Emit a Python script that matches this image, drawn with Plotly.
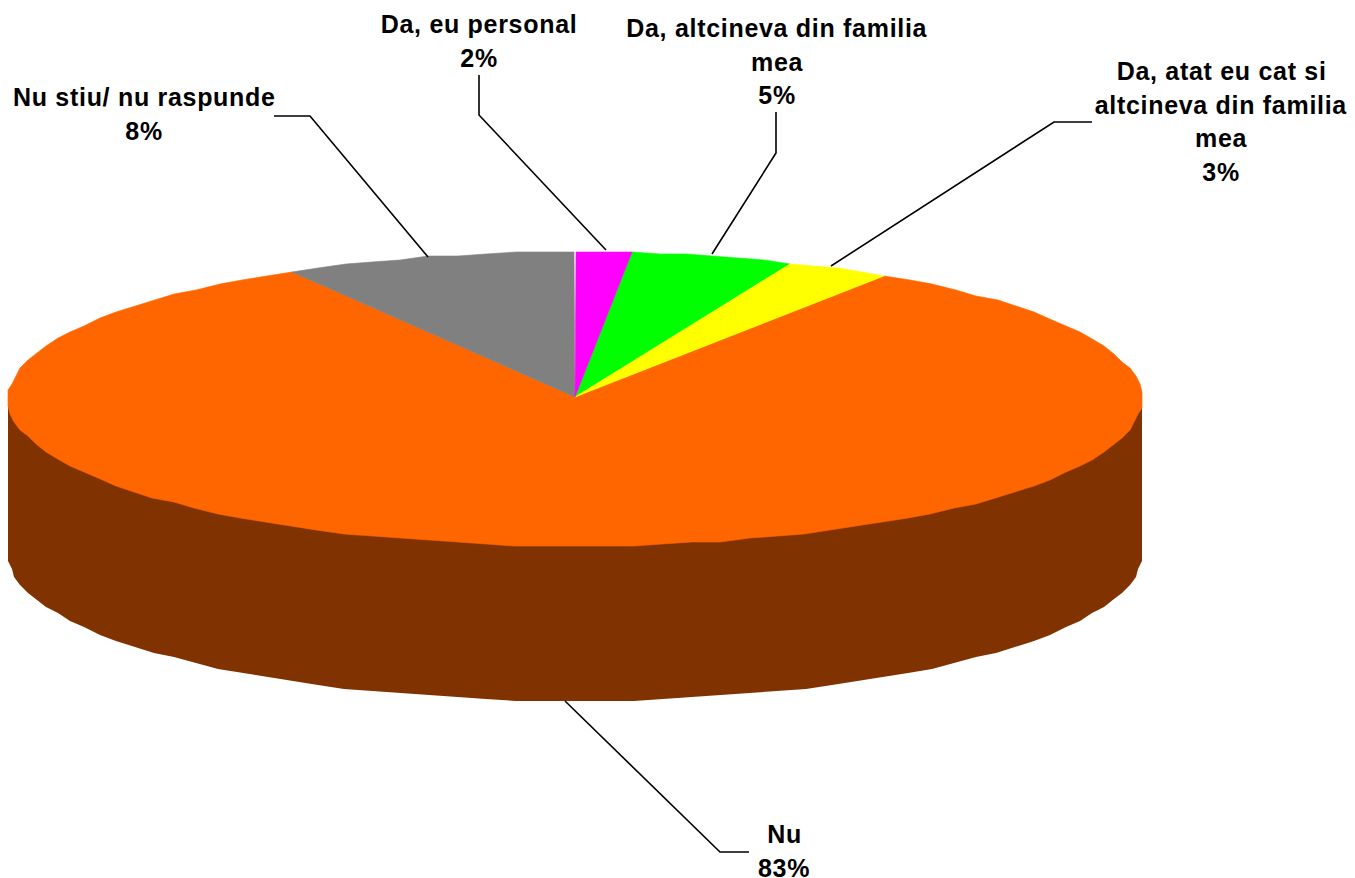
import numpy as np
import plotly.graph_objects as go

categories = ["Da, eu personal", "Da, altcineva din familia<br>mea",
              "Da, atat eu cat si<br>altcineva din familia<br>mea", "Nu", "Nu stiu/ nu raspunde"]
values = [1.6, 4.6, 3.0, 82.5, 8.3]
shown = ["2%", "5%", "3%", "83%", "8%"]
colors = ["#FF00FF", "#00FF00", "#FFFF00", "#FF6600", "#808080"]
wall_color = "#803300"

CX, CY, RX, RY, DEPTH = 575, 399, 567, 147, 155
W, H = 1355, 878
STEP = 3.0
GRID = 2.0
FONT = dict(family="Liberation Sans", size=25, color="black")


def rim(deg):
    t = np.radians(deg)
    x = CX + RX * np.sin(t)
    y = CY - RY * np.cos(t)
    return np.round(x / GRID) * GRID, np.round(y / GRID) * GRID


def arc_angles(a, b):
    n = max(2, int(np.ceil((b - a) / STEP)) + 1)
    return np.linspace(a, b, n)


fig = go.Figure()

# side wall: front half of the disc pushed down by the depth; the top face covers its upper edge
th = arc_angles(90, 270)
xs, ys = rim(th)
wx = np.concatenate([[xs[0]], xs, [xs[-1]]])
wy = np.concatenate([[CY], ys + DEPTH, [CY]])
fig.add_trace(go.Scatter(x=wx, y=wy, mode="lines", fill="toself", fillcolor=wall_color,
                         line=dict(width=0, color=wall_color), hoverinfo="skip", showlegend=False))

# top slices, largest first so that the small ones sit cleanly on top of its seams
cum = np.concatenate([[0], np.cumsum(values)]) / sum(values) * 360
for i in np.argsort(values)[::-1]:
    c = categories[i]
    th = arc_angles(cum[i], cum[i + 1])
    xs, ys = rim(th)
    fig.add_trace(go.Scatter(x=np.r_[CX, xs, CX], y=np.r_[CY - 2, ys, CY - 2], mode="lines", fill="toself",
                             fillcolor=colors[i], line=dict(width=0.6, color=colors[i]),
                             name=c.replace("<br>", " "), hoverinfo="name", showlegend=False))

# label placement: centre x, first-line y; leader polyline from label to slice
label_pos = [(479, 24), (777, 28), (1221, 71), (784, 834), (144, 97)]
LINE_STEP = 33.7
elbows = [[(479, 75), (479, 115)], [(776, 112), (776, 153)], [(1092, 122), (1054, 122)],
          [(749, 852), (720, 852)], [(274, 116), (310, 116)]]
anchors = [(606, 250), (712, 254), (831, 266), (565, 701), (428, 257)]

for i, c in enumerate(categories):
    px, py = zip(*(elbows[i] + [anchors[i]]))
    fig.add_trace(go.Scatter(x=px, y=py, mode="lines", line=dict(color="black", width=1.6),
                             hoverinfo="skip", showlegend=False))
    lines = c.split("<br>") + [shown[i]]
    for j, line in enumerate(lines):
        fig.add_annotation(x=label_pos[i][0], y=label_pos[i][1] + j * LINE_STEP, text="<b>" + line + "</b>",
                           showarrow=False, xanchor="center", yanchor="middle", font=FONT)

fig.update_layout(width=W, height=H, margin=dict(l=0, r=0, t=0, b=0), paper_bgcolor="white",
                  plot_bgcolor="white", showlegend=False,
                  xaxis=dict(range=[0, W], visible=False, fixedrange=True),
                  yaxis=dict(range=[H, 0], visible=False, fixedrange=True))
post = ("document.body.style.margin='0';document.body.style.overflow='hidden';"
        "var s=document.createElement('style');"
        "s.textContent='.annotation-text{letter-spacing:0.7px}';document.head.appendChild(s);")
fig.write_html("out.html", config=dict(displayModeBar=False), post_script=post)
